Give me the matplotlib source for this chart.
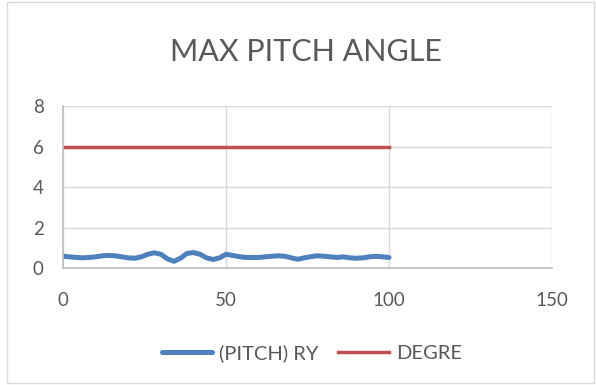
import matplotlib.pyplot as plt

plt.rcParams['font.family'] = ['Lato', 'DejaVu Sans']

# pitch data (x step 2)
x_pitch = list(range(0, 101, 2))
ry = [0.58, 0.55, 0.52, 0.50, 0.52, 0.55, 0.60, 0.62, 0.60, 0.55,
      0.50, 0.48, 0.55, 0.68, 0.75, 0.68, 0.45, 0.33, 0.48, 0.72,
      0.76, 0.68, 0.50, 0.42, 0.50, 0.68, 0.62, 0.56, 0.52, 0.52,
      0.52, 0.55, 0.58, 0.60, 0.58, 0.50, 0.43, 0.50, 0.56, 0.60,
      0.58, 0.55, 0.52, 0.55, 0.50, 0.48, 0.50, 0.55, 0.58, 0.55, 0.52]
x_degre = [0, 100]
degre = [6, 6]

fig = plt.figure(figsize=(5.96, 3.85), dpi=100)
ax = fig.add_axes([0.106, 0.304, 0.82, 0.420])

ax.plot(x_pitch, ry, color='#4f81bd', lw=3.6, label='(PITCH) RY', solid_capstyle='round')
ax.plot(x_degre, degre, color='#c0504d', lw=2.5, label='DEGRE')

ax.set_xlim(0, 150)
ax.set_ylim(0, 8)
ax.set_xticks([0, 50, 100, 150])
ax.set_yticks([0, 2, 4, 6, 8])
ax.grid(True, color='#d9d9d9', lw=1)
ax.set_axisbelow(True)
for s in ['top', 'right']:
    ax.spines[s].set_visible(False)
for s in ['left', 'bottom']:
    ax.spines[s].set_color('#bfbfbf')
    ax.spines[s].set_linewidth(1.2)
ax.tick_params(length=0, labelsize=13.5, labelcolor='#595959')
ax.tick_params(axis='x', pad=17)
ax.tick_params(axis='y', pad=14)

fig.text(0.514, 0.865, 'MAX PITCH ANGLE', ha='center', va='center', fontsize=22, color='#595959')
fig.legend(loc='center', bbox_to_anchor=(0.523, 0.082), ncol=2, frameon=False,
           fontsize=14.5, labelcolor='#595959', handlelength=2.5, handletextpad=0.35,
           columnspacing=1.0)

fig.patches.append(plt.Rectangle((0.012, 0.005), 0.985, 0.99, transform=fig.transFigure,
                                 fill=False, edgecolor='#d9d9d9', lw=1))

fig.savefig('out.png', dpi=100)
